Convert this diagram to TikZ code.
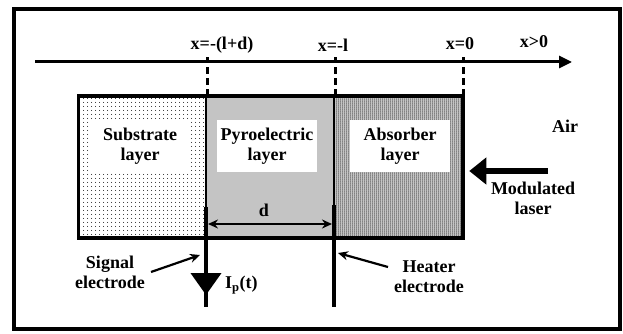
\documentclass[tikz,border=0pt]{standalone}
\usepackage{fontspec}
\setmainfont{Liberation Serif}
\usepackage{tikz}
\usetikzlibrary{arrows.meta,patterns.meta,decorations.markings,positioning}

\begin{document}
\begin{tikzpicture}[x=1pt, y=-1pt,
    lbl/.style={font=\fontsize{18}{20}\selectfont\bfseries, align=center, inner sep=0pt},
    layer/.style={rectangle, draw, line width=2.5pt, minimum width=128pt, minimum height=140pt, inner sep=0pt},
    whitebox/.style={lbl, fill=white, minimum width=100pt, minimum height=52pt},
    tick/.style={dash pattern=on 7pt off 4pt, line width=3pt},
    electrode/.style={line width=4pt},
    pointer/.style={-{Stealth[length=10pt,width=9pt]}, line width=2.2pt}]
    \useasboundingbox (0,0) rectangle (623,334);
    \draw[line width=3.5pt] (14,9) rectangle (620,329);

    % layers
    \node[layer, minimum width=127pt, pattern={Dots[distance=4pt,radius=0.6pt]}] (sub) at (142.5,167) {};
    \node[layer, fill=black!12, pattern={Dots[distance=2pt,radius=0.6pt]}] (pyro) at (270,167) {};
    \node[layer, fill=black!35, pattern={Dots[distance=2pt,radius=0.75pt]}] (abs) at (398,167) {};
    \draw[line width=2.5pt] (sub.north west) rectangle (abs.south east);

    \node[whitebox] (sublbl) at (140,146) {Substrate\\layer};
    \node[whitebox] (pyrolbl) at (267,146) {Pyroelectric\\layer};
    \node[whitebox] (abslbl) at (400,146) {Absorber\\layer};

    % x axis
    \coordinate (ax0) at (35,62);
    \coordinate (ax1) at (572,62);
    \draw[line width=3pt, -{Triangle[length=13pt,width=12pt]}] (ax0) -- (ax1);
    \draw[tick] (sub.north east) -- (sub.north east |- 0,57);
    \draw[tick] (pyro.north east) -- (pyro.north east |- 0,57);
    \draw[tick] (abs.north east) -- (abs.north east |- 0,57);
    \node[lbl] (xld) at (222,45) {x=-(l+d)};
    \node[lbl] (xl) at (333,45) {x=-l};
    \node[lbl] (x0) at (460,44) {x=0};
    \node[lbl] (xpos) at (534,42) {x>0};

    % thickness d
    \coordinate (dL) at (208,224);
    \coordinate (dR) at (332,224);
    \draw[{Stealth[length=10pt,width=9pt]}-{Stealth[length=10pt,width=9pt]}, line width=2.5pt] (dL) -- (dR);
    \node[lbl] (d) at (264,210) {d};

    % electrodes
    \coordinate (sigtop) at (206,207);
    \coordinate (sigbot) at (206,307);
    \coordinate (heattop) at (334,205);
    \coordinate (heatbot) at (334,307);
    \draw[electrode, postaction={decorate}, decoration={markings, mark=at position 0.88 with {\arrow{Triangle[length=22pt,width=30pt]}}}] (sigtop) -- (sigbot);
    \draw[electrode] (heattop) -- (heatbot);
    \node[lbl, anchor=west] (ip) at (225,285) {I\textsubscript{p}(t)};

    \node[lbl] (sig) at (110,272) {Signal\\electrode};
    \coordinate (sigp) at (200,255);
    \draw[pointer] ([xshift=6pt]sig.east) -- (sigp);
    \node[lbl] (heat) at (429,277) {Heater\\electrode};
    \coordinate (heatp) at (338,253);
    \draw[pointer] ([xshift=-6pt,yshift=10pt]heat.west) -- (heatp);

    % laser side
    \node[lbl] (air) at (565,126) {Air};
    \node[lbl] (laser) at (533,198) {Modulated\\laser};
    \coordinate (lasertail) at (548,171);
    \draw[line width=6pt, -{Triangle[length=17pt,width=26pt]}] (lasertail) -- ([xshift=6pt]abs.east |- lasertail);
\end{tikzpicture}
\end{document}
